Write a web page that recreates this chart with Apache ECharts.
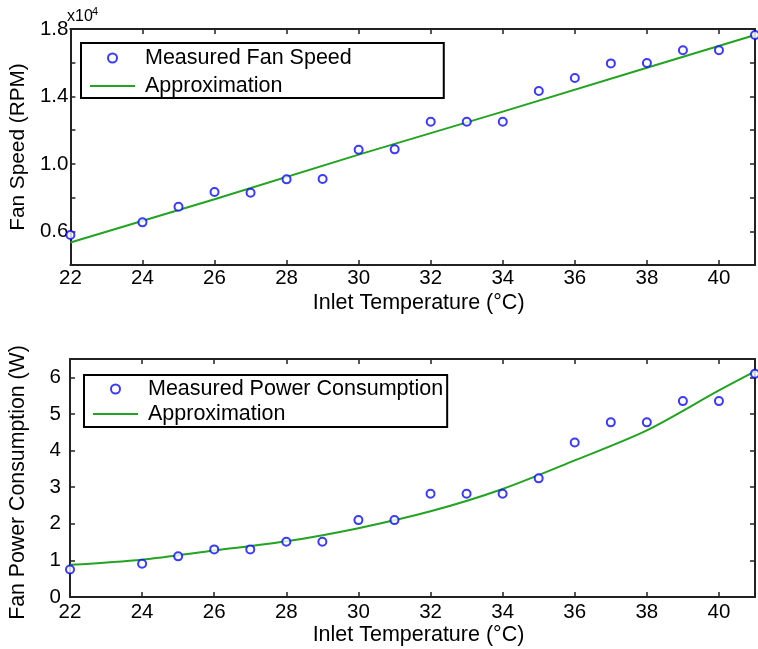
<!DOCTYPE html>
<html>
<head>
<meta charset="utf-8">
<script src="https://cdn.jsdelivr.net/npm/echarts@6/dist/echarts.min.js"></script>
<style>
html,body{margin:0;padding:0;background:#fff;}
#c{width:758px;height:649px;}
</style>
</head>
<body>
<div id="c"></div>
<script>
// ---- data ----
var temps = [22, 24, 25, 26, 27, 28, 29, 30, 31, 32, 33, 34, 35, 36, 37, 38, 39, 40, 41];
var fanSpeed = [5780, 6530, 7460, 8330, 8290, 9080, 9100, 10840, 10860, 12500, 12500, 12500, 14320, 15090, 15960, 15980, 16740, 16740, 17640];
var power = [0.75, 0.91, 1.11, 1.30, 1.30, 1.51, 1.51, 2.10, 2.10, 2.82, 2.82, 2.82, 3.24, 4.22, 4.77, 4.77, 5.35, 5.35, 6.10];
var fanFitTemps = [22, 26, 30, 34, 38, 41];
var fanFit = [5330, 7900, 10550, 13100, 15700, 17640];
var powerFitTemps = [22, 24, 26, 28, 30, 32, 34, 36, 38, 40, 41];
var powerFit = [0.88, 1.02, 1.27, 1.52, 1.88, 2.34, 2.95, 3.73, 4.55, 5.64, 6.16];
var xTickLabels = [22, 24, 26, 28, 30, 32, 34, 36, 38, 40];
var fanTickLabels = [6000, 10000, 14000, 18000];
var powerTickLabels = [0, 1, 2, 3, 4, 5, 6];

function pairs(xs, ys) { return xs.map(function (x, i) { return [x, ys[i]]; }); }

var FONT = 'Liberation Sans, Arial, sans-serif';
var AX = '#222';
var BLUE = '#0a0aff';
var GREEN = '#22a322';
var LINE_ICON = 'path://M0,0 L45,0 L45,2 L0,2 Z';

function xAx(grid, pos, margin, gap) {
  var main = pos === 'bottom';
  return {
    type: 'value', gridIndex: grid, position: pos, min: 22, max: 41, interval: 2,
    name: main ? 'Inlet Temperature (°C)' : '', nameLocation: 'middle', nameGap: gap,
    nameTextStyle: { fontFamily: FONT, fontSize: 21.5, color: '#000', padding: [0, 0, 0, 12] },
    axisLine: { show: true, onZero: false, lineStyle: { color: AX, width: 2 } },
    axisTick: { show: true, inside: true, length: 5, lineStyle: { color: AX, width: 1.5 } },
    axisLabel: { show: main, margin: margin, fontFamily: FONT, fontSize: 20.5, color: '#000',
      formatter: function (v) { return xTickLabels.indexOf(v) >= 0 ? String(v) : ''; } },
    splitLine: { show: false }
  };
}

var option = {
  animation: false,
  backgroundColor: '#fff',
  grid: [
    { left: 68, top: 29, width: 689, height: 236 },
    { left: 68, top: 359, width: 689, height: 238 }
  ],
  xAxis: [
    xAx(0, 'bottom', 3, 27),
    xAx(0, 'top', 0, 0),
    xAx(1, 'bottom', 5, 27),
    xAx(1, 'top', 0, 0)
  ],
  yAxis: [
    {
      type: 'value', gridIndex: 0, position: 'left', min: 4000, max: 18000, interval: 2000,
      name: 'Fan Speed (RPM)', nameLocation: 'middle', nameGap: 41,
      nameTextStyle: { fontFamily: FONT, fontSize: 20.8, color: '#000' },
      axisLine: { show: true, onZero: false, lineStyle: { color: AX, width: 2 } },
      axisTick: { show: true, inside: true, length: 5, lineStyle: { color: AX, width: 1.5 } },
      axisLabel: { margin: 2, fontFamily: FONT, fontSize: 20.5, color: '#000',
        formatter: function (v) { return fanTickLabels.indexOf(v) >= 0 ? (v / 10000).toFixed(1) : ''; } },
      splitLine: { show: false }
    },
    {
      type: 'value', gridIndex: 0, position: 'right', min: 4000, max: 18000, interval: 2000,
      axisLine: { show: true, onZero: false, lineStyle: { color: AX, width: 2 } },
      axisTick: { show: true, inside: true, length: 5, lineStyle: { color: AX, width: 1.5 } },
      axisLabel: { show: false }, splitLine: { show: false }
    },
    {
      type: 'value', gridIndex: 1, position: 'left', min: 0, max: 6.5, interval: 1,
      name: 'Fan Power Consumption (W)', nameLocation: 'middle', nameGap: 41,
      nameTextStyle: { fontFamily: FONT, fontSize: 21.3, color: '#000', padding: [0, 9, 0, 0] },
      axisLine: { show: true, onZero: false, lineStyle: { color: AX, width: 2 } },
      axisTick: { show: true, inside: true, length: 5, lineStyle: { color: AX, width: 1.5 } },
      axisLabel: { margin: 9, fontFamily: FONT, fontSize: 20.5, color: '#000',
        formatter: function (v) { return powerTickLabels.indexOf(v) >= 0 ? String(v) : ''; } },
      splitLine: { show: false }
    },
    {
      type: 'value', gridIndex: 1, position: 'right', min: 0, max: 6.5, interval: 1,
      axisLine: { show: true, onZero: false, lineStyle: { color: AX, width: 2 } },
      axisTick: { show: true, inside: true, length: 5, lineStyle: { color: AX, width: 1.5 } },
      axisLabel: { show: false }, splitLine: { show: false }
    }
  ],
  legend: [
    {
      orient: 'vertical', left: 81, top: 43, padding: [3, 92, 0, 9], itemGap: 4,
      itemWidth: 45, itemHeight: 9, borderColor: '#000', borderWidth: 2, backgroundColor: '#fff',
      selectedMode: false,
      textStyle: { fontFamily: FONT, fontSize: 21.5, color: '#000', lineHeight: 24, padding: [0, 0, 0, 5] },
      data: [{ name: 'Measured Fan Speed' }, { name: 'Approximation', icon: LINE_ICON }]
    },
    {
      orient: 'vertical', left: 84, top: 375, padding: [2, 4, 1, 9], itemGap: 1,
      itemWidth: 45, itemHeight: 9, borderColor: '#000', borderWidth: 2, backgroundColor: '#fff',
      selectedMode: false,
      textStyle: { fontFamily: FONT, fontSize: 21.5, color: '#000', lineHeight: 24, padding: [0, 0, 0, 5] },
      data: [{ name: 'Measured Power Consumption' }, { name: 'Approximation', icon: LINE_ICON }]
    }
  ],
  graphic: [
    { type: 'text', left: 67, top: 9, style: { text: 'x10', fontFamily: FONT, fontSize: 16, fill: '#000' } },
    { type: 'text', left: 92, top: 6, style: { text: '4', fontFamily: FONT, fontSize: 11, fill: '#000' } }
  ],
  series: [
    {
      name: 'Approximation', type: 'line', xAxisIndex: 0, yAxisIndex: 0,
      data: pairs(fanFitTemps, fanFit), symbol: 'none',
      lineStyle: { color: GREEN, width: 2 }, itemStyle: { color: GREEN }, z: 2
    },
    {
      name: 'Measured Fan Speed', type: 'scatter', xAxisIndex: 0, yAxisIndex: 0,
      data: pairs(temps, fanSpeed), symbol: 'emptyCircle', symbolSize: 8,
      itemStyle: { color: BLUE, borderColor: BLUE, borderWidth: 1.6 }, z: 3
    },
    {
      name: 'Approximation', type: 'line', xAxisIndex: 2, yAxisIndex: 2,
      data: pairs(powerFitTemps, powerFit), symbol: 'none', smooth: 0.3,
      lineStyle: { color: GREEN, width: 2 }, itemStyle: { color: GREEN }, z: 2
    },
    {
      name: 'Measured Power Consumption', type: 'scatter', xAxisIndex: 2, yAxisIndex: 2,
      data: pairs(temps, power), symbol: 'emptyCircle', symbolSize: 8,
      itemStyle: { color: BLUE, borderColor: BLUE, borderWidth: 1.6 }, z: 3
    }
  ]
};

var chart = echarts.init(document.getElementById('c'), null, { renderer: 'canvas' });
chart.setOption(option);
</script>
</body>
</html>
